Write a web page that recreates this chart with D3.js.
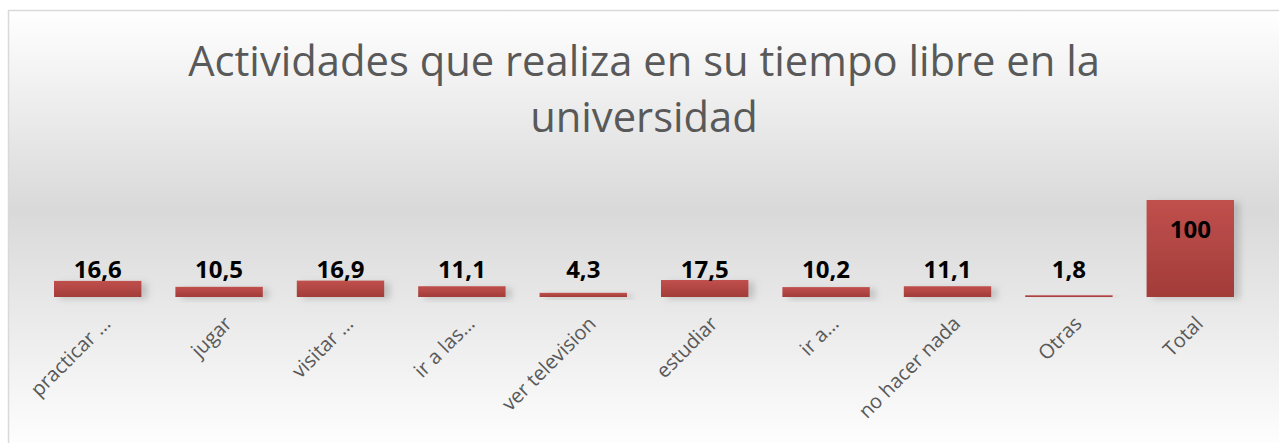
<!DOCTYPE html>
<html>
<head>
<meta charset="utf-8">
<script src="https://cdn.jsdelivr.net/npm/d3@7"></script>
<style>
  html, body { margin: 0; padding: 0; background: #ffffff; }
  .title { font-family: "Open Sans", sans-serif; fill: #595959; }
  .value-label { font-family: "Open Sans", sans-serif; font-weight: bold; font-size: 24px; fill: #000000; }
  .cat-label { font-family: "Open Sans", sans-serif; font-size: 20px; fill: #595959; }
</style>
</head>
<body>
<div id="chart"></div>
<script>
const CANVAS_WIDTH   = 1279;
const CANVAS_HEIGHT  =  443;

const FRAME_LEFT     =    8;
const FRAME_TOP      =   10;

const PLOT_LEFT      =   37;
const PLOT_RIGHT     = 1251;
const BASELINE_Y     =  297;
const TOTAL_TOP_Y    =  200;

const TITLE_LINES  = ["Actividades que realiza en su tiempo libre en la", "universidad"];
const CATEGORIES   = ["practicar …", "jugar", "visitar …", "ir a las…", "ver television",
                      "estudiar", "ir a…", "no hacer nada", "Otras", "Total"];
const VALUES       = [16.6, 10.5, 16.9, 11.1, 4.3, 17.5, 10.2, 11.1, 1.8, 100];
const VALUE_TEXT   = ["16,6", "10,5", "16,9", "11,1", "4,3", "17,5", "10,2", "11,1", "1,8", "100"];

var svg = d3.select("#chart")
            .append("svg")
            .attr("width", CANVAS_WIDTH)
            .attr("height", CANVAS_HEIGHT);

var defs = svg.append("defs");

// chart area background: white -> grey -> white
var bg = defs.append("linearGradient")
             .attr("id", "bg-grad")
             .attr("x1", 0).attr("y1", 0).attr("x2", 0).attr("y2", 1);
bg.append("stop").attr("offset", "0%").attr("stop-color", "#ffffff");
bg.append("stop").attr("offset", "45%").attr("stop-color", "#d9d9d9");
bg.append("stop").attr("offset", "100%").attr("stop-color", "#ffffff");

var barGrad = defs.append("linearGradient")
                  .attr("id", "bar-grad")
                  .attr("x1", 0).attr("y1", 0).attr("x2", 0).attr("y2", 1);
barGrad.append("stop").attr("offset", "0%").attr("stop-color", "#c0504d");
barGrad.append("stop").attr("offset", "100%").attr("stop-color", "#a23c39");

var shadow = defs.append("filter")
                 .attr("id", "bar-shadow")
                 .attr("x", "-20%").attr("y", "-50%")
                 .attr("width", "150%").attr("height", "200%");
shadow.append("feDropShadow")
      .attr("dx", 6).attr("dy", 2)
      .attr("stdDeviation", 3)
      .attr("flood-color", "#7f7f7f")
      .attr("flood-opacity", 0.35);

svg.append("rect")
   .attr("x", FRAME_LEFT + 0.5)
   .attr("y", FRAME_TOP + 0.5)
   .attr("width", CANVAS_WIDTH)
   .attr("height", CANVAS_HEIGHT)
   .attr("fill", "url(#bg-grad)")
   .attr("stroke", "#d9d9d9")
   .attr("stroke-width", 1.5);

// Title, fitted to the width it has in the original
var TITLE_WIDTH = 912;
var titleSize = 40;
var t1 = svg.append("text")
            .attr("class", "title")
            .attr("text-anchor", "middle")
            .attr("x", 644)
            .attr("y", 76)
            .style("font-size", titleSize + "px")
            .text(TITLE_LINES[0]);
var w = t1.node().getComputedTextLength();
titleSize = Math.min(44, titleSize * TITLE_WIDTH / w);
t1.style("font-size", titleSize + "px");
svg.append("text")
   .attr("class", "title")
   .attr("text-anchor", "middle")
   .attr("x", 644)
   .attr("y", 132)
   .style("font-size", titleSize + "px")
   .text(TITLE_LINES[1]);

var xScale = d3.scaleBand()
               .domain(CATEGORIES)
               .range([PLOT_LEFT, PLOT_RIGHT])
               .paddingInner(0.28)
               .paddingOuter(0.14);

var yScale = d3.scaleLinear()
               .domain([0, 100])
               .range([BASELINE_Y, TOTAL_TOP_Y]);

var data = CATEGORIES.map((c, i) => ({cat: c, v: VALUES[i], txt: VALUE_TEXT[i]}));

svg.selectAll("rect.bar")
   .data(data)
   .enter()
   .append("rect")
   .attr("class", "bar")
   .attr("x", d => xScale(d.cat))
   .attr("y", d => yScale(d.v))
   .attr("width", xScale.bandwidth())
   .attr("height", d => yScale(0) - yScale(d.v))
   .attr("fill", "url(#bar-grad)")
   .attr("filter", "url(#bar-shadow)");

// value labels: outside end sits on a common line, the tall bar gets it inside
svg.selectAll("text.value-label")
   .data(data)
   .enter()
   .append("text")
   .attr("class", "value-label")
   .attr("text-anchor", "middle")
   .attr("x", d => xScale(d.cat) + xScale.bandwidth() / 2)
   .attr("y", d => d.v > 50 ? yScale(d.v) + 38 : Math.min(yScale(d.v), yScale(18)) - 2)
   .text(d => d.txt);

// category labels, rotated
var xAxis = d3.axisBottom(xScale).tickSize(0).tickPadding(0);
var gx = svg.append("g")
            .attr("transform", "translate(0," + BASELINE_Y + ")")
            .call(xAxis);
gx.select(".domain").remove();
gx.attr("font-size", null).attr("font-family", null);
gx.selectAll(".tick text")
  .attr("class", "cat-label")
  .attr("fill", null)
  .attr("text-anchor", "end")
  .attr("y", 0)
  .attr("dy", null)
  .attr("transform", "translate(14,28) rotate(-45)");
</script>
</body>
</html>
